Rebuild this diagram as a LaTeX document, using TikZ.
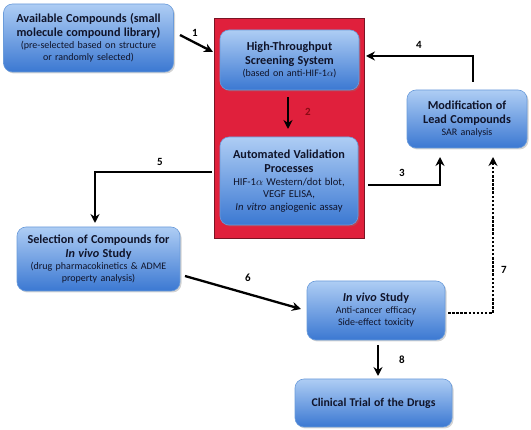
\documentclass[tikz,border=0pt]{standalone}
\usepackage{fontspec}
\setmainfont{Carlito}
\usetikzlibrary{arrows.meta,shadows}
\definecolor{boxtop}{HTML}{AECDF4}
\definecolor{boxbot}{HTML}{3B78D2}
\definecolor{boxline}{HTML}{6A9BDA}
\definecolor{redfill}{HTML}{E0203C}
\definecolor{redline}{HTML}{7A1424}
\definecolor{txt}{HTML}{10142A}
\definecolor{lblred}{HTML}{8A0A14}
\tikzset{
  bluebox/.style={draw=boxline, line width=0.6pt, rounded corners=9pt,
    top color=boxtop, bottom color=boxbot, align=center, text=txt,
    inner sep=2pt, drop shadow={shadow xshift=1.5pt, shadow yshift=-1.5pt, opacity=0.35}},
  flow/.style={line width=2.3pt, -{Stealth[length=9pt,width=9pt]}},
  dotflow/.style={line width=2.5pt, dash pattern=on 2.5pt off 1.6pt, -{Stealth[length=9pt,width=9pt]}},
  lbl/.style={font=\fontsize{11}{13}\selectfont\bfseries, text=black}
}
\newcommand{\ttlf}{\fontsize{12.2}{14}\selectfont\bfseries}
\newcommand{\ttlc}{\fontsize{11.8}{14}\selectfont\bfseries}
\newcommand{\sm}{\fontsize{10}{12}\selectfont\mdseries}
\newcommand{\smm}{\fontsize{10.6}{12.6}\selectfont\mdseries}
\begin{document}
\begin{tikzpicture}[x=1pt,y=-1pt]
\useasboundingbox (0,0) rectangle (531,430);
% red box
\node[draw=redline, fill=redfill, line width=0.8pt, minimum width=150pt, minimum height=220pt, inner sep=0pt] (redbox) at (289,128) {};
% boxes
\node[bluebox, minimum width=170pt, minimum height=68pt, text width=166pt] (avail) at (88.5,38)
  {{\ttlf Available Compounds (small\\molecule compound library)\par}{\sm (pre-selected based on structure\\or randomly selected)\par}};
\node[bluebox, minimum width=139pt, minimum height=60pt, text width=135pt] (hts) at (289.5,60)
  {{\ttlf High-Throughput\\Screening System\par}{\sm (based on anti-HIF-1$\alpha$)\par}};
\node[bluebox, minimum width=138pt, minimum height=88pt, text width=134pt] (avp) at (289,181)
  {{\ttlf Automated Validation\\Processes\par}{\smm HIF-1$\alpha$ Western/dot blot,\\VEGF ELISA,\\\textit{In vitro} angiogenic assay\par}};
\node[bluebox, minimum width=120pt, minimum height=58pt, text width=116pt] (mod) at (467,119)
  {{\ttlf Modification of\\Lead Compounds\par}{\sm SAR analysis\par}};
\node[bluebox, minimum width=163pt, minimum height=64pt, text width=159pt] (sel) at (98.5,259)
  {{\ttlf Selection of Compounds for\\\textit{In vivo} Study\par}{\sm (drug pharmacokinetics \& ADME\\property analysis)\par}};
\node[bluebox, minimum width=138pt, minimum height=59pt, text width=134pt] (invivo) at (376,310.5)
  {{\ttlf \textit{In vivo} Study\par}{\sm Anti-cancer efficacy\\Side-effect toxicity\par}};
\node[bluebox, minimum width=157pt, minimum height=48pt, text width=153pt] (clin) at (373.5,403)
  {{\ttlc Clinical Trial of the Drugs\par}};
% coordinates
\coordinate (s1) at (180,35);
\coordinate (e1) at (213,52);
\coordinate (s2) at (288,97);
\coordinate (e2) at (288,129);
\coordinate (s4) at (473,82);
\coordinate (b4) at (473,56);
\coordinate (e4) at (366,56);
\coordinate (s3) at (368,185);
\coordinate (b3) at (440,185);
\coordinate (e3) at (440,157);
\coordinate (s7) at (448,313);
\coordinate (b7) at (493,313);
\coordinate (e7) at (493,157);
\coordinate (s5) at (212,172);
\coordinate (b5) at (95,172);
\coordinate (e5) at (95,223);
\coordinate (s6) at (185,276);
\coordinate (e6) at (301,309);
\coordinate (s8) at (378,345);
\coordinate (e8) at (378,376);
% connectors
\draw[flow] (s1) -- (e1);
\draw[flow] (s2) -- (e2);
\draw[flow] (s4) -- (b4) -- (e4);
\draw[flow] (s3) -- (b3) -- (e3);
\draw[dotflow] (s7) -- (b7) -- (e7);
\draw[flow] (s5) -- (b5) -- (e5);
\draw[flow] (s6) -- (e6);
\draw[flow] (s8) -- (e8);
% labels
\node[lbl] (l1) at (195,33) {1};
\node[lbl, text=lblred] (l2) at (308,112) {2};
\node[lbl] (l3) at (402,173) {3};
\node[lbl] (l4) at (419,45) {4};
\node[lbl] (l5) at (160,162) {5};
\node[lbl] (l6) at (248,278) {6};
\node[lbl] (l7) at (504,270) {7};
\node[lbl] (l8) at (402,360) {8};
\end{tikzpicture}
\end{document}
